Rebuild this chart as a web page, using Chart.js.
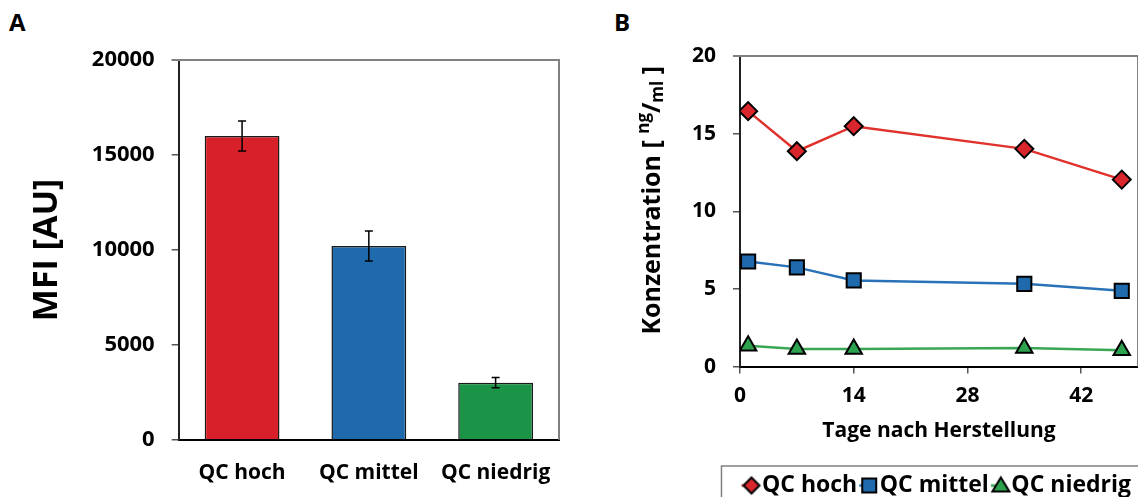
<!DOCTYPE html>
<html>
<head>
<meta charset="utf-8">
<script src="https://cdn.jsdelivr.net/npm/chart.js@4.4.0/dist/chart.umd.min.js"></script>
<style>
html, body { margin: 0; padding: 0; background: #fff; overflow: hidden; width: 1138px; height: 497px; }
#wrapA { position: absolute; left: 0; top: 0; width: 600px; height: 499px; }
#wrapB { position: absolute; left: 600px; top: 0; width: 550px; height: 513px; }
.panel { position: absolute; top: 5px; font: bold 24px "Open Sans"; color: #000; }
</style>
</head>
<body>
<div class="panel" style="left:9px">A</div>
<div class="panel" style="left:614px">B</div>
<div id="wrapA"><canvas id="chartA"></canvas></div>
<div id="wrapB"><canvas id="chartB"></canvas></div>
<script>
// panel A: MFI per QC level
const categories = ['QC hoch', 'QC mittel', 'QC niedrig'];
const mfiValues = [16000, 10200, 3010];
const mfiErrors = [790, 790, 265];
const barColors = ['#d7202a', '#1f6aad', '#1b9447'];

// panel B: concentration over days
const days = [1, 7, 14, 35, 47];
const qcHoch = [16.45, 13.87, 15.48, 14.02, 12.04];
const qcMittel = [6.77, 6.39, 5.55, 5.33, 4.88];
const qcNiedrig = [1.35, 1.13, 1.14, 1.2, 1.05];
const seriesNames = ['QC hoch', 'QC mittel', 'QC niedrig'];

const boldFont = (size) => ({ family: 'Open Sans', weight: 'bold', size: size });

// gray top/right frame like the excel plot area
const plotFrame = {
    id: 'plotFrame',
    beforeDatasetsDraw(chart) {
        const a = chart.chartArea;
        const ctx = chart.ctx;
        ctx.save();
        ctx.strokeStyle = '#808080';
        ctx.lineWidth = 2;
        ctx.beginPath();
        ctx.moveTo(a.left - 7, a.top);
        ctx.lineTo(a.right, a.top);
        ctx.lineTo(a.right, a.bottom);
        ctx.stroke();
        ctx.restore();
    }
};

const errorBars = {
    id: 'errorBars',
    afterDatasetsDraw(chart) {
        const ctx = chart.ctx;
        const y = chart.scales.y;
        ctx.save();
        ctx.strokeStyle = '#000';
        ctx.lineWidth = 1.5;
        chart.getDatasetMeta(0).data.forEach((bar, i) => {
            const top = y.getPixelForValue(mfiValues[i] + mfiErrors[i]);
            const bot = y.getPixelForValue(mfiValues[i] - mfiErrors[i]);
            ctx.beginPath();
            ctx.moveTo(bar.x, top); ctx.lineTo(bar.x, bot);
            ctx.moveTo(bar.x - 4, top); ctx.lineTo(bar.x + 4, top);
            ctx.moveTo(bar.x - 4, bot); ctx.lineTo(bar.x + 4, bot);
            ctx.stroke();
        });
        ctx.restore();
    }
};

new Chart(document.getElementById('chartA'), {
    type: 'bar',
    data: {
        labels: categories,
        datasets: [{
            data: mfiValues,
            backgroundColor: barColors,
            borderColor: '#1a1a1a',
            borderWidth: 1.5,
            barPercentage: 0.59,
            categoryPercentage: 1
        }]
    },
    options: {
        responsive: true,
        maintainAspectRatio: false,
        animation: false,
        layout: { padding: { top: 60, right: 41, bottom: 0, left: 27 } },
        plugins: { legend: { display: false }, tooltip: { enabled: false } },
        scales: {
            x: {
                grid: { display: false },
                border: { color: '#000', width: 2 },
                ticks: { color: '#000', font: boldFont(21), padding: 13 }
            },
            y: {
                min: 0,
                max: 20000,
                ticks: { stepSize: 5000, format: { useGrouping: false }, color: '#000', font: boldFont(22), padding: 17 },
                grid: { drawOnChartArea: false, tickLength: 7, color: '#555', lineWidth: 1.5 },
                border: { color: '#222', width: 2 },
                title: {
                    display: true, text: 'MFI [AU]', color: '#000',
                    font: boldFont(34), padding: { top: 0, bottom: 7 }
                }
            }
        }
    },
    plugins: [plotFrame, errorBars]
});

// legend marker: short line stub + symbol, drawn into a small canvas
function legendMarker(shape, fill, lineColor) {
    const c = document.createElement('canvas');
    c.width = 26; c.height = 22;
    const g = c.getContext('2d');
    const cx = 15, cy = 11;
    g.strokeStyle = lineColor;
    g.lineWidth = 2.5;
    g.beginPath(); g.moveTo(5, cy); g.lineTo(cx, cy); g.stroke();
    g.fillStyle = fill;
    g.strokeStyle = '#000';
    g.lineWidth = 2;
    g.beginPath();
    if (shape === 'diamond') {
        g.moveTo(cx, cy - 8); g.lineTo(cx + 8, cy); g.lineTo(cx, cy + 8); g.lineTo(cx - 8, cy);
    } else if (shape === 'square') {
        g.rect(cx - 7, cy - 7, 14, 14);
    } else {
        g.moveTo(cx, cy - 8); g.lineTo(cx + 8.5, cy + 6); g.lineTo(cx - 8.5, cy + 6);
    }
    g.closePath();
    g.fill();
    g.stroke();
    return c;
}

const lineColors = ['#e0322c', '#2a72b8', '#3aa655'];
const markerFills = ['#d9262c', '#1f6aad', '#2ca24f'];
const legendMarkers = [
    legendMarker('diamond', markerFills[0], lineColors[0]),
    legendMarker('square', markerFills[1], lineColors[1]),
    legendMarker('triangle', markerFills[2], lineColors[2])
];

// rotated y title with superscript / subscript unit
const yTitleB = {
    id: 'yTitleB',
    afterDraw(chart) {
        const ctx = chart.ctx;
        const a = chart.chartArea;
        const parts = [
            { t: 'Konzentration [ ', size: 25, dy: 0 },
            { t: 'ng', size: 17, dy: -9 },
            { t: '/', size: 25, dy: 0 },
            { t: 'ml', size: 17, dy: 5 },
            { t: ' ]', size: 25, dy: 0 }
        ];
        ctx.save();
        let total = 0;
        parts.forEach(p => {
            ctx.font = 'bold ' + p.size + 'px "Open Sans"';
            p.w = ctx.measureText(p.t).width;
            total += p.w;
        });
        ctx.translate(53, (a.top + a.bottom) / 2 - 11);
        ctx.rotate(-Math.PI / 2);
        ctx.fillStyle = '#000';
        ctx.textBaseline = 'middle';
        let x = -total / 2;
        parts.forEach(p => {
            ctx.font = 'bold ' + p.size + 'px "Open Sans"';
            ctx.fillText(p.t, x, p.dy);
            x += p.w;
        });
        ctx.restore();
    }
};

const legendFrame = {
    id: 'legendFrame',
    afterDraw(chart) {
        const boxes = chart.legend.legendHitBoxes;
        if (!boxes.length) return;
        const ctx = chart.ctx;
        ctx.save();
        ctx.strokeStyle = '#808080';
        ctx.lineWidth = 1.5;
        ctx.strokeRect(boxes[0].left - 27, boxes[0].top - 8, chart.width, 100);
        ctx.restore();
    }
};

function points(values) {
    return days.map((d, i) => ({ x: d, y: values[i] }));
}

new Chart(document.getElementById('chartB'), {
    type: 'line',
    data: {
        datasets: [
            {
                label: seriesNames[0], data: points(qcHoch),
                borderColor: lineColors[0], borderWidth: 2.5,
                pointStyle: 'rectRot', pointRadius: 9, pointBackgroundColor: markerFills[0],
                pointBorderColor: '#000', pointBorderWidth: 2
            },
            {
                label: seriesNames[1], data: points(qcMittel),
                borderColor: lineColors[1], borderWidth: 2.5,
                pointStyle: 'rect', pointRadius: 10, pointBackgroundColor: markerFills[1],
                pointBorderColor: '#000', pointBorderWidth: 2
            },
            {
                label: seriesNames[2], data: points(qcNiedrig),
                borderColor: lineColors[2], borderWidth: 2.5,
                pointStyle: 'triangle', pointRadius: 9.5, pointBackgroundColor: markerFills[2],
                pointBorderColor: '#000', pointBorderWidth: 2
            }
        ]
    },
    options: {
        responsive: true,
        maintainAspectRatio: false,
        animation: false,
        layout: { padding: { top: 56, right: 10, bottom: 6, left: 75 } },
        plugins: {
            tooltip: { enabled: false },
            legend: {
                position: 'bottom',
                align: 'end',
                labels: {
                    usePointStyle: true,
                    pointStyleWidth: 2,
                    padding: 9,
                    color: '#000',
                    font: boldFont(23),
                    generateLabels: (chart) => chart.data.datasets.map((ds, i) => ({
                        text: ds.label,
                        pointStyle: legendMarkers[i],
                        fontColor: '#000',
                        lineWidth: 0,
                        strokeStyle: 'transparent',
                        fillStyle: 'transparent',
                        datasetIndex: i,
                        hidden: false
                    }))
                }
            }
        },
        scales: {
            x: {
                type: 'linear',
                min: 0,
                max: 49,
                ticks: { stepSize: 14, includeBounds: false, color: '#000', font: boldFont(21), padding: 10 },
                grid: { drawOnChartArea: false, tickLength: 7, color: '#555', lineWidth: 1.5 },
                border: { color: '#000', width: 2 },
                title: {
                    display: true, text: 'Tage nach Herstellung', color: '#000',
                    font: boldFont(21), padding: { top: 0, bottom: 21 }
                }
            },
            y: {
                min: 0,
                max: 20,
                ticks: { stepSize: 5, color: '#000', font: boldFont(21), padding: 17 },
                grid: { drawOnChartArea: false, tickLength: 7, color: '#555', lineWidth: 1.5 },
                border: { color: '#222', width: 2 }
            }
        }
    },
    plugins: [plotFrame, yTitleB, legendFrame]
});
</script>
</body>
</html>
